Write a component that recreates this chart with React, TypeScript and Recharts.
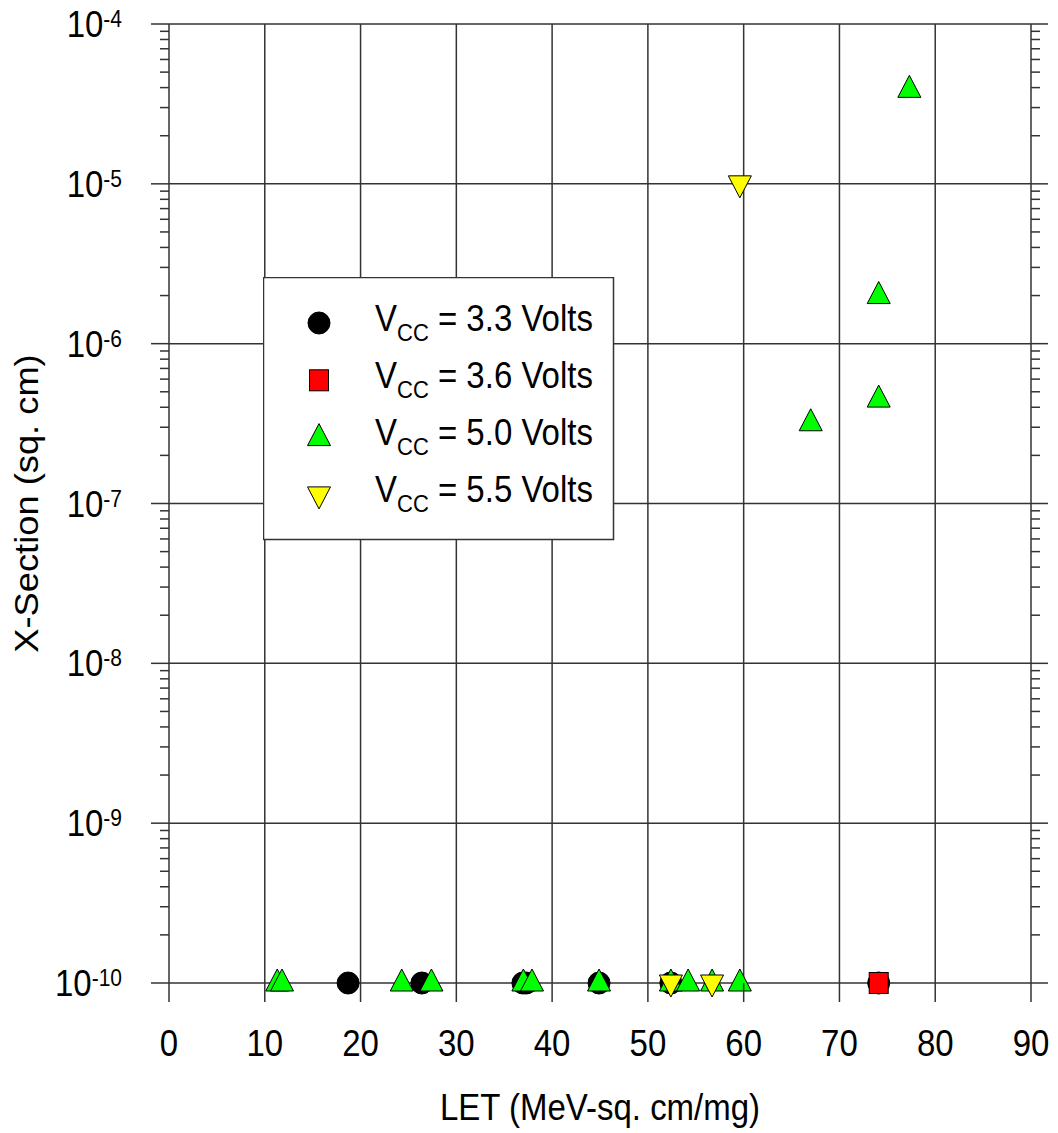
import React from 'react';
import { ScatterChart, Scatter, XAxis, YAxis, ReferenceLine, Legend, Label } from 'recharts';

// LET values (x) and cross sections (y) per supply voltage
const vcc33X = [18.7, 26.4, 36.95, 37.3, 44.9, 52.4, 74.1];
const vcc33Y = [1e-10, 1e-10, 1e-10, 1e-10, 1e-10, 1e-10, 1e-10];
const vcc36X = [74.1];
const vcc36Y = [1e-10];
const vcc50X = [11.3, 11.8, 24.3, 27.4, 37.0, 37.9, 44.9, 52.4, 54.2, 56.7, 59.6, 67.0, 74.1, 74.1, 77.3];
const vcc50Y = [1e-10, 1e-10, 1e-10, 1e-10, 1e-10, 1e-10, 1e-10, 1e-10, 1e-10, 1e-10, 1e-10, 3.2e-7, 4.5e-7, 2e-6, 3.9e-5];
const vcc55X = [52.4, 56.7, 59.6];
const vcc55Y = [1e-10, 1e-10, 1e-5];

const legendLabels = ['3.3', '3.6', '5.0', '5.5'];

const xTicks = [0, 10, 20, 30, 40, 50, 60, 70, 80, 90];
const majorTicks = [1e-10, 1e-9, 1e-8, 1e-7, 1e-6, 1e-5, 1e-4];
const minorMultipliers = [2, 3, 4, 5, 6, 7, 8, 9];
const minorTicks = majorTicks.slice(0, -1).flatMap((d) => minorMultipliers.map((m) => m * d));
const yTicks = [...majorTicks, ...minorTicks].sort((a, b) => a - b);

const FONT = '"Liberation Sans", Arial, sans-serif';
const GRID = '#333';

const zip = (xs: number[], ys: number[]) => xs.map((x, i) => ({ x, y: ys[i] }));

const isMajor = (v: number) => {
  const l = Math.log10(v);
  return Math.abs(l - Math.round(l)) < 1e-6;
};

const SText = ({ x, y, anchor = 'start', size = 33, children }: any) => (
  <text
    transform={`translate(${x},${y}) scale(1,1.1)`}
    textAnchor={anchor}
    fontSize={size}
    fontFamily={FONT}
    fill="#000"
  >
    {children}
  </text>
);

// marker shapes
const circle = (cx: number, cy: number) => <circle cx={cx} cy={cy} r={11} fill="#000" stroke="#000" strokeWidth={1} />;
const square = (cx: number, cy: number) => (
  <rect x={cx - 9.5} y={cy - 10.5} width={19} height={21} fill="#ff0000" stroke="#000" strokeWidth={1} />
);
const triUp = (cx: number, cy: number) => (
  <path d={`M${cx},${cy - 14} L${cx + 11.5},${cy + 8} L${cx - 11.5},${cy + 8} Z`} fill="#00ff00" stroke="#000" strokeWidth={1} />
);
const triDown = (cx: number, cy: number) => (
  <path d={`M${cx - 11.5},${cy - 8} L${cx + 11.5},${cy - 8} L${cx},${cy + 14} Z`} fill="#ffff00" stroke="#000" strokeWidth={1} />
);
const markers = [circle, square, triUp, triDown];

const LeftTick = (props: any) => {
  const { x, y, payload } = props;
  const major = isMajor(payload.value);
  return (
    <g>
      <line x1={x - (major ? 18 : 9)} x2={x} y1={y} y2={y} stroke={GRID} strokeWidth={1.5} />
      {major && (
        <SText x={x - 47} y={y + 13} anchor="end">
          <tspan>10</tspan>
          <tspan dy={-9} fontSize={21}>{Math.round(Math.log10(payload.value))}</tspan>
        </SText>
      )}
    </g>
  );
};

const RightTick = (props: any) => {
  const { x, y, payload } = props;
  const major = isMajor(payload.value);
  return <line x1={x} x2={x + (major ? 17 : 9)} y1={y} y2={y} stroke={GRID} strokeWidth={1.5} />;
};

const BottomTick = (props: any) => {
  const { x, y, payload } = props;
  return (
    <g>
      <line x1={x} x2={x} y1={y} y2={y + 19} stroke={GRID} strokeWidth={1.5} />
      <SText x={x} y={y + 73} anchor="middle">{payload.value}</SText>
    </g>
  );
};

const LegendBox = () => (
  <svg width={352} height={264} style={{ display: 'block' }}>
    <rect x={0.5} y={0.5} width={350} height={262} fill="#fff" stroke={GRID} strokeWidth={1.5} />
    {legendLabels.map((v, i) => (
      <g key={v}>
        {markers[i](56, 46 + i * 57.3)}
        <SText x={112} y={54 + i * 57}>
          <tspan>V</tspan>
          <tspan dy={9} fontSize={22}>CC</tspan>
          <tspan dy={-9}>{` = ${v} Volts`}</tspan>
        </SText>
      </g>
    ))}
  </svg>
);

export default function App() {
  const series = [zip(vcc33X, vcc33Y), zip(vcc36X, vcc36Y), zip(vcc50X, vcc50Y), zip(vcc55X, vcc55Y)];
  return (
    <div style={{ position: 'absolute', left: 0, top: 0, width: 1058, height: 1133, background: '#fff' }}>
      <ScatterChart width={1058} height={1133} margin={{ top: 24, right: 0, bottom: 0, left: 0 }}>
        <XAxis
          type="number"
          dataKey="x"
          domain={[0, 90]}
          ticks={xTicks}
          interval={0}
          height={150}
          tickSize={0}
          tickMargin={0}
          axisLine={false}
          tickLine={false}
          tick={<BottomTick />}
        >
          <Label
            content={(p: any) => {
              const vb = p.viewBox;
              return (
                <SText x={vb.x + vb.width / 2} y={vb.y + 137} anchor="middle">
                  LET (MeV-sq. cm/mg)
                </SText>
              );
            }}
          />
        </XAxis>
        <YAxis
          yAxisId="left"
          type="number"
          dataKey="y"
          scale="log"
          domain={[1e-10, 1e-4]}
          ticks={yTicks}
          interval={0}
          width={169}
          tickSize={0}
          tickMargin={0}
          axisLine={false}
          tickLine={false}
          tick={<LeftTick />}
        >
          <Label
            content={(p: any) => {
              const vb = p.viewBox;
              const cy = vb.y + vb.height / 2;
              return (
                <text
                  transform={`translate(38,${cy}) scale(1,1.1) rotate(-90)`}
                  textAnchor="middle"
                  fontSize={33}
                  fontFamily={FONT}
                  fill="#000"
                >
                  X-Section (sq. cm)
                </text>
              );
            }}
          />
        </YAxis>
        <YAxis
          yAxisId="right"
          orientation="right"
          type="number"
          scale="log"
          domain={[1e-10, 1e-4]}
          allowDataOverflow
          ticks={yTicks}
          interval={0}
          width={27}
          tickSize={0}
          tickMargin={0}
          axisLine={false}
          tickLine={false}
          tick={<RightTick />}
        />
        {majorTicks.map((v) => (
          <ReferenceLine key={'h' + v} yAxisId="left" y={v} stroke={GRID} strokeWidth={1.5} ifOverflow="visible" />
        ))}
        {xTicks.map((t) => (
          <ReferenceLine key={'v' + t} yAxisId="left" x={t} stroke={GRID} strokeWidth={1.5} ifOverflow="visible" />
        ))}
        {series.map((data, i) => (
          <Scatter
            key={legendLabels[i]}
            name={`VCC = ${legendLabels[i]} Volts`}
            yAxisId="left"
            data={data}
            isAnimationActive={false}
            shape={(p: any) => markers[i](p.cx, p.cy)}
          />
        ))}
        <Legend
          layout="horizontal"
          verticalAlign="middle"
          align="center"
          wrapperStyle={{ position: 'absolute', left: 263, top: 277, width: 352, height: 264, margin: 0, padding: 0 }}
          content={() => <LegendBox />}
        />
      </ScatterChart>
    </div>
  );
}
